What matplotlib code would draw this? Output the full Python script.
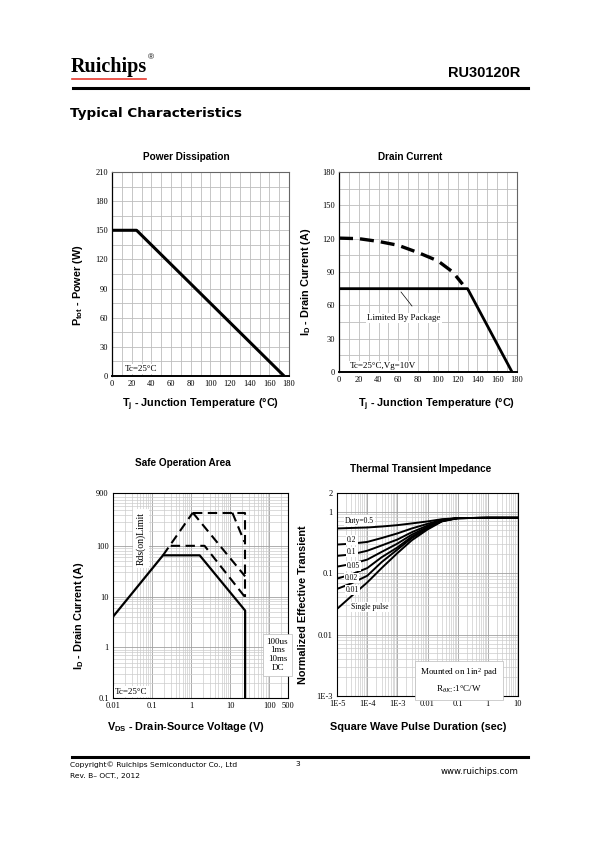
import matplotlib
matplotlib.use('Agg')
import matplotlib.pyplot as plt
from matplotlib.ticker import FixedLocator, NullFormatter, LogLocator

plt.rcParams['mathtext.fontset'] = 'custom'
plt.rcParams['mathtext.rm'] = 'Liberation Serif'
plt.rcParams['mathtext.it'] = 'Liberation Serif:italic'
plt.rcParams['mathtext.bf'] = 'Liberation Sans:bold'
plt.rcParams['mathtext.sf'] = 'Liberation Sans'

# ---------------- data ----------------
# Power dissipation
pd_temp = [0, 25, 175]
pd_power = [150, 150, 0]
pd_xticks = [0, 20, 40, 60, 80, 100, 120, 140, 160, 180]
pd_yticks = [0, 30, 60, 90, 120, 150, 180, 210]

# Drain current
dc_temp_pkg = [0, 130, 175]
dc_current_pkg = [75, 75, 0]
dc_temp_si = [0, 20, 40, 60, 80, 100, 115, 125]
dc_current_si = [120.5, 120, 117.5, 114, 107.5, 100, 90, 79]
dc_xticks = [0, 20, 40, 60, 80, 100, 120, 140, 160, 180]
dc_yticks = [0, 30, 60, 90, 120, 150, 180]

# Safe operation area
soa_dc_v = [0.01, 0.19, 1.65, 24, 24]
soa_dc_i = [4, 65, 65, 5.3, 0.1]
soa_rds_v = [0.19, 1.1]
soa_rds_i = [65, 450]
soa_10ms_v = [0.3, 2.2, 24]
soa_10ms_i = [100, 100, 9.7]
soa_1ms_v = [1.1, 24]
soa_1ms_i = [450, 25]
soa_100us_v = [11.3, 23]
soa_100us_i = [450, 120]
soa_lim_v = [1.1, 24, 24]
soa_lim_i = [450, 450, 9.7]
soa_xticks = [0.01, 0.1, 1, 10, 100, 300]
soa_xticklabels = ['0.01', '0.1', '1', '10', '100', '500']
soa_yticks = [0.1, 1, 10, 100, 1100]
soa_yticklabels = ['0.1', '1', '10', '100', '900']

# Thermal transient impedance
th_t = [1e-5, 3e-5, 1e-4, 3e-4, 1e-3, 3e-3, 1e-2, 3e-2, 1e-1, 1, 10]
th_d05 = [0.53, 0.54, 0.55, 0.57, 0.60, 0.64, 0.69, 0.75, 0.78, 0.79, 0.79]
th_d02 = [0.29, 0.30, 0.32, 0.37, 0.44, 0.53, 0.63, 0.73, 0.78, 0.79, 0.79]
th_d01 = [0.19, 0.20, 0.23, 0.28, 0.35, 0.46, 0.59, 0.72, 0.78, 0.79, 0.79]
th_d005 = [0.127, 0.14, 0.165, 0.22, 0.30, 0.42, 0.56, 0.71, 0.78, 0.79, 0.79]
th_d002 = [0.081, 0.095, 0.12, 0.18, 0.26, 0.39, 0.54, 0.70, 0.78, 0.79, 0.79]
th_d001 = [0.055, 0.068, 0.09, 0.15, 0.24, 0.37, 0.53, 0.70, 0.78, 0.79, 0.79]
th_single = [0.026, 0.042, 0.07, 0.12, 0.21, 0.34, 0.51, 0.69, 0.78, 0.79, 0.79]
th_duty_labels = ['Duty=0.5', '0.2', '0.1', '0.05', '0.02', '0.01', 'Single pulse']
th_xticks = [1e-5, 1e-4, 1e-3, 1e-2, 1e-1, 1, 10]
th_xticklabels = ['1E-5', '1E-4', '1E-3', '0.01', '0.1', '1', '10']
th_yticks = [1e-3, 1e-2, 1e-1, 1, 2]
th_yticklabels = ['1E-3', '0.01', '0.1', '1', '2']

# ---------------- figure ----------------
W, H = 598, 842
fig = plt.figure(figsize=(W / 100, H / 100), dpi=100)
fig.patch.set_facecolor('white')


def fx(x):
    return x / W


def fy(y):
    return 1 - y / H


def add_ax(left, top, right, bottom):
    return fig.add_axes([fx(left), fy(bottom), (right - left) / W, (bottom - top) / H])


SERIF = 'Liberation Serif'
SANS = 'Liberation Sans'
TICK_FS = 6
GRID_C = '#bdbdbd'


def style_ticks(ax):
    ax.tick_params(which='both', length=0, pad=3, labelsize=TICK_FS)
    for lab in ax.get_xticklabels() + ax.get_yticklabels():
        lab.set_fontfamily(SERIF)


def style_spines(ax):
    for s in ax.spines.values():
        s.set_color('#666666')
        s.set_linewidth(0.8)
    ax.spines['bottom'].set_color('black')
    ax.spines['bottom'].set_linewidth(1.4)
    ax.spines['left'].set_color('black')
    ax.spines['left'].set_linewidth(0.9)


box = dict(boxstyle='square,pad=0.15', fc='white', ec='none')

# ----- Chart 1: Power Dissipation -----
ax1 = add_ax(112, 172, 289, 376)
ax1.set_xlim(0, 180)
ax1.set_ylim(0, 210)
ax1.set_xticks(pd_xticks)
ax1.set_yticks(pd_yticks)
ax1.xaxis.set_minor_locator(FixedLocator(list(range(10, 180, 20))))
ax1.yaxis.set_minor_locator(FixedLocator(list(range(15, 210, 30))))
ax1.grid(which='both', color=GRID_C, lw=0.6)
ax1.set_axisbelow(True)
ax1.plot(pd_temp, pd_power, color='black', lw=2.2, solid_capstyle='butt')
style_ticks(ax1)
style_spines(ax1)
ax1.text(0.073, 0.035, 'Tc=25°C', transform=ax1.transAxes, fontfamily=SERIF,
         fontsize=6.5, va='center', ha='left', bbox=box)

# ----- Chart 2: Drain Current -----
ax2 = add_ax(339, 172, 517, 372)
ax2.set_xlim(0, 180)
ax2.set_ylim(0, 180)
ax2.set_xticks(dc_xticks)
ax2.set_yticks(dc_yticks)
ax2.xaxis.set_minor_locator(FixedLocator(list(range(10, 180, 20))))
ax2.yaxis.set_minor_locator(FixedLocator(list(range(15, 180, 30))))
ax2.grid(which='both', color=GRID_C, lw=0.6)
ax2.set_axisbelow(True)
ax2.plot(dc_temp_si, dc_current_si, color='black', lw=2.4, linestyle=(0, (4.2, 2.1)))
ax2.plot(dc_temp_pkg, dc_current_pkg, color='black', lw=2.0)
ax2.plot([62.7, 73.8], [72, 59.4], color='black', lw=0.5)
ax2.text(65.7, 48.6, 'Limited By Package', fontfamily=SERIF, fontsize=6.5,
         ha='center', va='center', bbox=box)
style_ticks(ax2)
style_spines(ax2)
ax2.text(0.062, 0.03, 'Tc=25°C,Vg=10V', transform=ax2.transAxes, fontfamily=SERIF,
         fontsize=6.5, va='center', ha='left', bbox=box)

# ----- Chart 3: SOA -----
ax3 = add_ax(113, 493, 288, 698)
ax3.set_xscale('log')
ax3.set_yscale('log')
ax3.set_xlim(0.01, 300)
ax3.set_ylim(0.1, 1100)
ax3.xaxis.set_major_locator(FixedLocator(soa_xticks))
ax3.set_xticklabels(soa_xticklabels)
ax3.yaxis.set_major_locator(FixedLocator(soa_yticks))
ax3.set_yticklabels(soa_yticklabels)
ax3.xaxis.set_minor_locator(LogLocator(base=10, subs=range(2, 10), numticks=20))
ax3.yaxis.set_minor_locator(LogLocator(base=10, subs=range(2, 10), numticks=20))
ax3.xaxis.set_minor_formatter(NullFormatter())
ax3.yaxis.set_minor_formatter(NullFormatter())
ax3.grid(which='major', color='#a0a0a0', lw=0.6)
ax3.grid(which='minor', color='#cccccc', lw=0.5)
ax3.set_axisbelow(True)
dash3 = (0, (4.5, 2.6))
ax3.plot(soa_rds_v, soa_rds_i, color='black', lw=1.5, linestyle=dash3)
ax3.plot(soa_lim_v, soa_lim_i, color='black', lw=1.5, linestyle=dash3)
ax3.plot(soa_100us_v, soa_100us_i, color='black', lw=1.5, linestyle=dash3)
ax3.plot(soa_1ms_v, soa_1ms_i, color='black', lw=1.5, linestyle=dash3)
ax3.plot(soa_10ms_v, soa_10ms_i, color='black', lw=1.5, linestyle=dash3)
ax3.plot(soa_dc_v, soa_dc_i, color='black', lw=1.6)
style_ticks(ax3)
for s in ax3.spines.values():
    s.set_color('black')
    s.set_linewidth(0.8)
ax3.text(0.16, 0.78, 'Rds(on)Limit', transform=ax3.transAxes, fontfamily=SERIF,
         fontsize=7, rotation=90, ha='center', va='center',
         bbox=dict(boxstyle='square,pad=0.3', fc='white', ec='none'))
ax3.text(0.94, 0.21, '100us\n1ms\n10ms\nDC', transform=ax3.transAxes, fontfamily=SERIF,
         fontsize=6.5, ha='center', va='center', linespacing=1.15,
         bbox=dict(boxstyle='square,pad=0.4', fc='white', ec='#bbbbbb', lw=0.5))
ax3.text(0.012, 0.03, 'Tc=25°C', transform=ax3.transAxes, fontfamily=SERIF,
         fontsize=6.5, va='center', ha='left', bbox=box)

# ----- Chart 4: Thermal -----
ax4 = add_ax(337, 493, 518, 696)
ax4.set_xscale('log')
ax4.set_yscale('log')
ax4.set_xlim(1e-5, 10)
ax4.set_ylim(1e-3, 2)
ax4.xaxis.set_major_locator(FixedLocator(th_xticks))
ax4.set_xticklabels(th_xticklabels)
ax4.yaxis.set_major_locator(FixedLocator(th_yticks))
ax4.set_yticklabels(th_yticklabels)
ax4.xaxis.set_minor_locator(LogLocator(base=10, subs=range(2, 10), numticks=20))
ax4.yaxis.set_minor_locator(LogLocator(base=10, subs=range(2, 10), numticks=20))
ax4.xaxis.set_minor_formatter(NullFormatter())
ax4.yaxis.set_minor_formatter(NullFormatter())
ax4.grid(which='major', color='#a0a0a0', lw=0.6)
ax4.grid(which='minor', color='#cccccc', lw=0.5)
ax4.set_axisbelow(True)
for series in [th_d05, th_d02, th_d01, th_d005, th_d002, th_d001, th_single]:
    ax4.plot(th_t, series, color='black', lw=1.4)
style_ticks(ax4)
for s in ax4.spines.values():
    s.set_color('black')
    s.set_linewidth(0.8)
lab_pos = [(0.044, 0.864, 'left'), (0.081, 0.768, 'center'), (0.081, 0.708, 'center'),
           (0.09, 0.642, 'center'), (0.081, 0.58, 'center'), (0.085, 0.522, 'center'),
           (0.182, 0.437, 'center')]
for (x, y, ha), lab in zip(lab_pos, th_duty_labels):
    ax4.text(x, y, lab, transform=ax4.transAxes, fontfamily=SERIF, fontsize=5.5,
             ha=ha, va='center', bbox=box)
ax4.text(0.674, 0.074, 'Mounted on 1in$^2$ pad\nR$_{\\theta\\mathrm{JC}}$:1°C/W',
         transform=ax4.transAxes, fontfamily=SERIF, fontsize=6.5, ha='center',
         va='center', linespacing=1.6,
         bbox=dict(boxstyle='square,pad=0.5', fc='white', ec='#bbbbbb', lw=0.5))

# ----- titles and axis labels -----
tkw = dict(fontfamily=SANS, fontweight='bold', ha='center', va='center')
fig.text(fx(186), fy(156.5), 'Power Dissipation', fontsize=7.2, **tkw)
fig.text(fx(410), fy(156.5), 'Drain Current', fontsize=7.2, **tkw)
fig.text(fx(183), fy(463.5), 'Safe Operation Area', fontsize=7.2, **tkw)
fig.text(fx(421), fy(468.5), 'Thermal Transient Impedance', fontsize=7.2, **tkw)

fig.text(fx(201), fy(405), r'$\mathbf{T_j}$ - Junction Temperature (°C)', fontsize=7.8, **tkw)
fig.text(fx(437), fy(405), r'$\mathbf{T_j}$ - Junction Temperature (°C)', fontsize=7.8, **tkw)
fig.text(fx(186), fy(727), r'$\mathbf{V_{DS}}$ - Drain-Source Voltage (V)', fontsize=7.8, **tkw)
fig.text(fx(418), fy(727), 'Square Wave Pulse Duration (sec)', fontsize=7.8, **tkw)

fig.text(fx(78), fy(285), r'$\mathbf{P_{tot}}$ - Power (W)', fontsize=7.8, rotation=90, **tkw)
fig.text(fx(306), fy(282), r'$\mathbf{I_D}$ - Drain Current (A)', fontsize=7.8, rotation=90, **tkw)
fig.text(fx(79), fy(616), r'$\mathbf{I_D}$ - Drain Current (A)', fontsize=7.8, rotation=90, **tkw)
fig.text(fx(303), fy(605), 'Normalized Effective Transient', fontsize=7.8, rotation=90, **tkw)

# ----- header -----
fig.text(fx(71), fy(67), 'Ruichips', fontfamily=SERIF, fontweight='bold',
         fontsize=14.5, ha='left', va='center', color='black')
fig.text(fx(148), fy(58), '®', fontfamily=SANS, fontsize=6, ha='left', va='center')
fig.add_artist(plt.Line2D([fx(72), fx(146)], [fy(78.5), fy(78.5)], color='#e8392f', lw=1.2))
fig.text(fx(520), fy(73), 'RU30120R', fontfamily=SANS, fontweight='bold', fontsize=10.5,
         ha='right', va='center')
fig.add_artist(plt.Line2D([fx(73), fx(528)], [fy(87.5), fy(87.5)], color='black', lw=2.2))
fig.text(fx(70), fy(113), 'Typical Characteristics', fontfamily='DejaVu Sans',
         fontweight='bold', fontsize=9.7, ha='left', va='center')

# ----- footer -----
fig.add_artist(plt.Line2D([fx(72), fx(528)], [fy(757), fy(757)], color='black', lw=2.2))
ffs = 5.4
fig.text(fx(70), fy(765), 'Copyright© Ruichips Semiconductor Co., Ltd', fontfamily='DejaVu Sans',
         fontsize=ffs, ha='left', va='center')
fig.text(fx(70), fy(776), 'Rev. B– OCT., 2012', fontfamily='DejaVu Sans',
         fontsize=ffs, ha='left', va='center')
fig.text(fx(298), fy(764), '3', fontfamily='DejaVu Sans', fontsize=ffs, ha='center', va='center')
fig.text(fx(519), fy(771), 'www.ruichips.com', fontfamily='DejaVu Sans', fontsize=6.2,
         ha='right', va='center')

fig.savefig('out.png', dpi=100)
